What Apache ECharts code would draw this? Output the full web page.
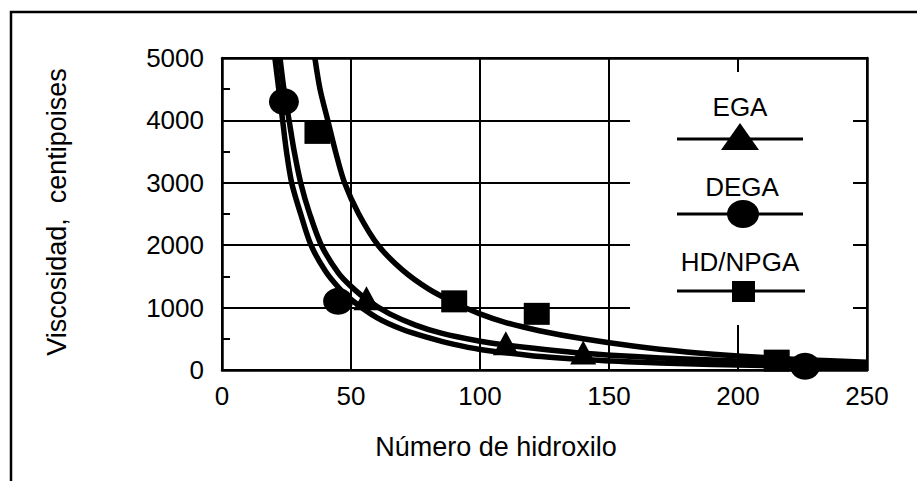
<!DOCTYPE html>
<html>
<head>
<meta charset="utf-8">
<script src="https://cdn.jsdelivr.net/npm/echarts@6/dist/echarts.min.js"></script>
<style>
html,body{margin:0;padding:0;background:#fff;}
#chart{width:917px;height:481px;}
</style>
</head>
<body>
<div id="chart"></div>
<script>
// ---- data ----
var xTicks = [0, 50, 100, 150, 200, 250];
var yTicks = [0, 1000, 2000, 3000, 4000, 5000];
var seriesNames = ['EGA', 'DEGA', 'HD/NPGA'];

// measured points
var egaPoints = [[56, 1150], [110, 430], [140, 280]];
var degaPoints = [[24, 4300], [45, 1100], [226, 60]];
var hdPoints = [[37, 3800], [90, 1100], [122, 900], [215, 150]];

// fitted curves
var egaCurve = [[22.5,5000],[24,4500],[26,4000],[28,3500],[30.5,3000],[34,2500],[38.5,2000],[45,1560],[50,1340],[57,1100],[65,900],[75,720],[85,590],[100,460],[110,400],[125,330],[140,270],[160,215],[180,175],[200,145],[225,115],[250,95]];
var degaCurve = [[20.5,5000],[22,4500],[23.5,4000],[25,3500],[27,3000],[30.5,2500],[34.5,2000],[40,1590],[45,1330],[50,1130],[60,840],[70,650],[80,520],[90,410],[100,330],[120,230],[140,170],[160,130],[180,100],[200,80],[226,60],[250,50]];
var hdCurve = [[36,5000],[38,4500],[41,4000],[44,3500],[47.5,3000],[53,2500],[60.5,2000],[70,1600],[80,1300],[90,1080],[100,900],[110,760],[123,630],[140,500],[160,380],[180,290],[200,225],[225,165],[250,125]];

var xTitle = 'Número de hidroxilo';
var yTitle = 'Viscosidad,  centipoises';

// ---- chart ----
var FONT = '"Liberation Sans", Arial, Helvetica, sans-serif';
var chart = echarts.init(document.getElementById('chart'), null, {renderer: 'svg'});

function curveSeries(data) {
  return {type: 'line', data: data, smooth: 0.3, showSymbol: false, symbol: 'none',
    lineStyle: {color: '#000', width: 5.5, join: 'round', cap: 'butt'}, z: 3, silent: true, clip: true};
}
function pointSeries(name, data, symbol, size) {
  return {name: name, type: 'scatter', data: data, symbol: symbol, symbolSize: size,
    itemStyle: {color: '#000', opacity: 1}, z: 4, silent: true};
}

var option = {
  backgroundColor: '#fff',
  animation: false,
  grid: {left: 222, top: 58, width: 645, height: 312, outerBoundsMode: 'none', containLabel: false},
  xAxis: [{
    type: 'value', min: xTicks[0], max: xTicks[xTicks.length - 1], interval: 50,
    axisLine: {show: true, lineStyle: {color: '#000', width: 2.5}},
    axisTick: {show: false},
    splitLine: {show: true, lineStyle: {color: '#000', width: 2}},
    axisLabel: {color: '#000', fontSize: 26, fontFamily: FONT, margin: 13, formatter: function (v) { return String(v); }}
  }, {
    type: 'value', position: 'top', min: 0, max: 250, interval: 50,
    axisLine: {show: true, onZero: false, lineStyle: {color: '#000', width: 2.5}},
    axisTick: {show: false}, axisLabel: {show: false}, splitLine: {show: false}
  }],
  yAxis: [{
    type: 'value', min: yTicks[0], max: yTicks[yTicks.length - 1], interval: 1000,
    axisLine: {show: true, lineStyle: {color: '#000', width: 2.5}},
    axisTick: {show: true, inside: true, length: 8, lineStyle: {color: '#000', width: 2}},
    minorTick: {show: true, splitNumber: 2, length: 8, lineStyle: {color: '#000', width: 2}},
    splitLine: {show: true, lineStyle: {color: '#000', width: 2}},
    axisLabel: {color: '#000', fontSize: 26, fontFamily: FONT, margin: 18, formatter: function (v) { return String(v); }}
  }, {
    type: 'value', position: 'right', min: 0, max: 5000, interval: 1000,
    axisLine: {show: true, onZero: false, lineStyle: {color: '#000', width: 2.5}},
    axisTick: {show: false}, axisLabel: {show: false}, splitLine: {show: false}
  }],
  series: [
    curveSeries(egaCurve),
    curveSeries(degaCurve),
    curveSeries(hdCurve),
    pointSeries(seriesNames[0], egaPoints, 'triangle', [26, 24]),
    pointSeries(seriesNames[1], degaPoints, 'circle', [30, 27]),
    pointSeries(seriesNames[2], hdPoints, 'rect', [26, 22])
  ],
  graphic: [
    // outer frame
    {type: 'polyline', shape: {points: [[11, 490], [11, 12], [930, 12]]}, style: {stroke: '#000', lineWidth: 2.5, fill: null}, z: 10},
    // legend background (hides grid lines)
    {type: 'rect', shape: {x: 630, y: 72, width: 223, height: 253}, style: {fill: '#fff'}, z: 1},
    // legend: EGA
    {type: 'text', x: 740, y: 107, style: {text: seriesNames[0], font: '26px ' + FONT, fill: '#000', align: 'center', verticalAlign: 'middle'}, z: 5},
    {type: 'line', shape: {x1: 677, y1: 139, x2: 803, y2: 139}, style: {stroke: '#000', lineWidth: 3}, z: 5},
    {type: 'polygon', shape: {points: [[721, 150], [759, 150], [740, 123]]}, style: {fill: '#000'}, z: 5},
    // legend: DEGA
    {type: 'text', x: 742, y: 187, style: {text: seriesNames[1], font: '26px ' + FONT, fill: '#000', align: 'center', verticalAlign: 'middle'}, z: 5},
    {type: 'line', shape: {x1: 677, y1: 214, x2: 803, y2: 214}, style: {stroke: '#000', lineWidth: 3}, z: 5},
    {type: 'ellipse', shape: {cx: 743, cy: 214, rx: 16, ry: 14}, style: {fill: '#000'}, z: 5},
    // legend: HD/NPGA
    {type: 'text', x: 740, y: 262, style: {text: seriesNames[2], font: '26px ' + FONT, fill: '#000', align: 'center', verticalAlign: 'middle'}, z: 5},
    {type: 'line', shape: {x1: 677, y1: 291, x2: 805, y2: 291}, style: {stroke: '#000', lineWidth: 3}, z: 5},
    {type: 'rect', shape: {x: 732, y: 281, width: 23, height: 21}, style: {fill: '#000'}, z: 5},
    // axis titles
    {type: 'text', x: 496, y: 447, style: {text: xTitle, font: '27px ' + FONT, fill: '#000', align: 'center', verticalAlign: 'middle'}, z: 5},
    {type: 'text', x: 57, y: 212, rotation: Math.PI / 2, style: {text: yTitle, font: '27px ' + FONT, fill: '#000', align: 'center', verticalAlign: 'middle'}, z: 5}
  ]
};
chart.setOption(option);
</script>
</body>
</html>
